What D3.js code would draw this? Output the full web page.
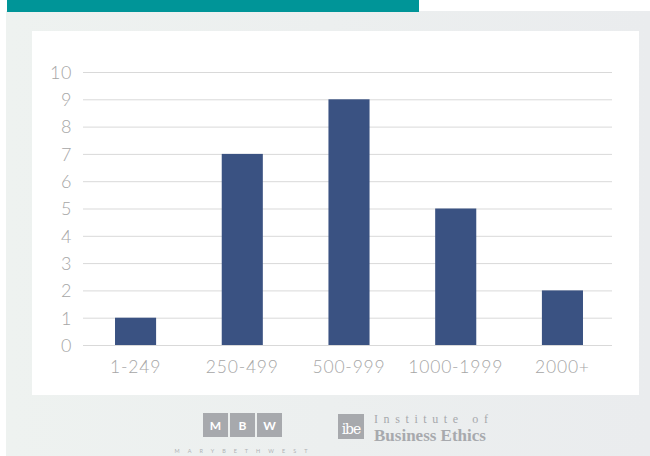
<!DOCTYPE html>
<html>
<head>
<meta charset="utf-8">
<script src="https://cdn.jsdelivr.net/npm/d3@7"></script>
<style>
body { margin: 0; background: #fff; }
svg text { font-family: "Lato", "Open Sans", sans-serif; }
</style>
</head>
<body>
<div id="chart"></div>
<script>
// data
var categories = ["1-249", "250-499", "500-999", "1000-1999", "2000+"];
var counts = [1, 7, 9, 5, 2];
var yTicks = [0, 1, 2, 3, 4, 5, 6, 7, 8, 9, 10];

var svgWidth = 650, svgHeight = 456;

var svg = d3.select("#chart").append("svg")
	.attr("width", svgWidth)
	.attr("height", svgHeight);

var defs = svg.append("defs");
var grad = defs.append("linearGradient").attr("id", "bg");
grad.append("stop").attr("offset", "0%").attr("stop-color", "#eef2f0");
grad.append("stop").attr("offset", "100%").attr("stop-color", "#eaecee");

// background frame
svg.append("rect").attr("x", 6).attr("y", 11).attr("width", 644).attr("height", 445).attr("fill", "url(#bg)");
svg.append("rect").attr("x", 7).attr("y", 0).attr("width", 412).attr("height", 12).attr("fill", "#009598");
svg.append("rect").attr("x", 32).attr("y", 31).attr("width", 607).attr("height", 364).attr("fill", "#fff");

var margin = {left: 83, right: 615, top: 72, bottom: 345};

var x = d3.scaleBand()
	.domain(categories)
	.range([margin.left, margin.right])
	.paddingInner(0.615)
	.paddingOuter(0.3);

var y = d3.scaleLinear()
	.domain([0, 10])
	.range([margin.bottom, margin.top]);

// grid
var grid = svg.append("g")
	.attr("transform", `translate(${margin.left},0)`)
	.call(d3.axisLeft(y).tickValues(yTicks).tickSize(-(612 - margin.left)).tickFormat(""));
grid.select(".domain").remove();
grid.selectAll("line").attr("stroke", "#d9d9d9").attr("stroke-width", 1);

// y labels
var yAxis = svg.append("g")
	.attr("transform", `translate(${margin.left - 11},0)`)
	.call(d3.axisLeft(y).tickValues(yTicks).tickSize(0));
yAxis.select(".domain").remove();
yAxis.selectAll("text")
	.attr("fill", "#a6a6a6")
	.style("font-size", "18px")
	.style("font-weight", "300")
	.style("letter-spacing", "0.6px")
	.attr("x", 0)
	.attr("dy", "0.35em");

// bars
svg.selectAll("rect.bar")
	.data(counts)
	.enter()
	.append("rect")
	.attr("class", "bar")
	.attr("x", (d, i) => x(categories[i]))
	.attr("y", d => y(d))
	.attr("width", x.bandwidth())
	.attr("height", d => y(0) - y(d))
	.attr("fill", "#3a5282");

// x labels
var xAxis = svg.append("g")
	.attr("transform", `translate(0,${margin.bottom})`)
	.call(d3.axisBottom(x).tickSize(0));
xAxis.select(".domain").remove();
xAxis.selectAll("text")
	.attr("fill", "#a6a6a6")
	.style("font-size", "17.5px")
	.style("font-weight", "300")
	.style("letter-spacing", "0.8px")
	.attr("y", 16)
	.attr("dy", "0.71em");

// logos
var mbw = svg.append("g");
["M", "B", "W"].forEach(function(letter, i) {
	mbw.append("rect")
		.attr("x", 203 + i * 27)
		.attr("y", 413)
		.attr("width", 25)
		.attr("height", 24)
		.attr("fill", "#a7a9ad");
	mbw.append("text")
		.attr("x", 203 + i * 27 + 12.5)
		.attr("y", 430)
		.attr("text-anchor", "middle")
		.attr("fill", "#fff")
		.style("font-size", "12px")
		.style("font-weight", "bold")
		.text(letter);
});
mbw.append("text")
	.attr("x", 245)
	.attr("y", 453)
	.attr("text-anchor", "middle")
	.attr("fill", "#b0b2b5")
	.style("font-size", "5.5px")
	.style("letter-spacing", "8px")
	.text("MARYBETHWEST");

var ibe = svg.append("g");
ibe.append("rect")
	.attr("x", 338).attr("y", 414).attr("width", 26).attr("height", 25)
	.attr("fill", "#a7a9ad");
ibe.append("text")
	.attr("x", 351).attr("y", 434)
	.attr("text-anchor", "middle")
	.attr("fill", "#fff")
	.style("font-family", "'DejaVu Serif', serif")
	.style("font-size", "14px")
	.style("letter-spacing", "-1px")
	.text("ibe");
ibe.append("text")
	.attr("x", 374).attr("y", 423)
	.attr("fill", "#a7a9ad")
	.style("font-family", "'Liberation Serif', serif")
	.style("font-size", "12px")
	.style("letter-spacing", "5.6px")
	.text("Institute of");
ibe.append("text")
	.attr("x", 374).attr("y", 441)
	.attr("fill", "#a7a9ad")
	.style("font-family", "'Liberation Serif', serif")
	.style("font-size", "17px")
	.style("font-weight", "bold")
	.text("Business Ethics");
</script>
</body>
</html>
